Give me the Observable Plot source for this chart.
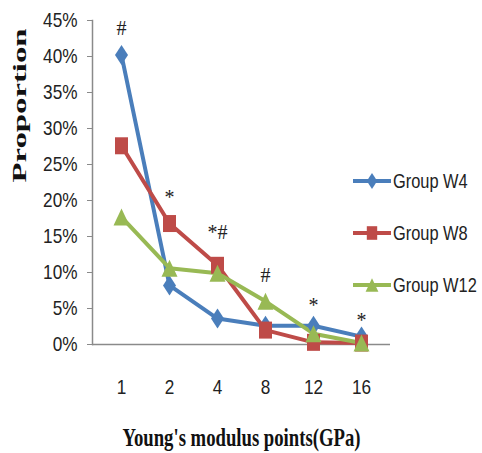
<!DOCTYPE html>
<html><head><meta charset="utf-8">
<script src="https://cdn.jsdelivr.net/npm/d3@7"></script>
<script src="https://cdn.jsdelivr.net/npm/@observablehq/plot@0.6"></script>
<style>body{margin:0;background:#fff}</style>
</head><body><div id="chart"></div>
<script>
const categories = ["1", "2", "4", "8", "12", "16"];
const seriesNames = ["Group W4", "Group W8", "Group W12"];
const w4 = [40.2, 8.2, 3.6, 2.6, 2.6, 1.1];
const w8 = [27.6, 16.8, 11.0, 2.0, 0.3, 0.2];
const w12 = [17.7, 10.6, 9.9, 6.0, 1.5, 0.2];
const colors = ["#4A7EBB", "#BE4B48", "#98B954"];
const yTicks = [0, 5, 10, 15, 20, 25, 30, 35, 40, 45];
const annotCats = ["1", "2", "4", "8", "12", "16"];
const annotLabels = ["#", "*", "*#", "#", "*", "*"];
const annotY = [43.9, 20.4, 15.6, 9.6, 5.4, 3.3];
const xTitle = "Young's modulus points(GPa)";
const yTitle = "Proportion";

const diamond = {draw(c) { const w = 6.5, h = 10; c.moveTo(0, -h); c.lineTo(w, 0); c.lineTo(0, h); c.lineTo(-w, 0); c.closePath(); }};
const square = {draw(c) { const w = 6.5, h = 8.5; c.moveTo(-w, -h); c.lineTo(w, -h); c.lineTo(w, h); c.lineTo(-w, h); c.closePath(); }};
const triangle = {draw(c) { const w = 8, h = 8.5; c.moveTo(0, -h); c.lineTo(w, h); c.lineTo(-w, h); c.closePath(); }};
const symbols = [diamond, square, triangle];
const seriesValues = [w4, w8, w12];

const rows = seriesNames.map((s, i) => categories.map((c, j) => ({series: s, cat: c, value: seriesValues[i][j]})));
const annots = annotCats.map((c, i) => ({cat: c, label: annotLabels[i], y: annotY[i]}));

const marks = [
  Plot.ruleY([0], {stroke: "#8a8a8a", strokeWidth: 1.5}),
  Plot.frame({anchor: "left", stroke: "#8a8a8a", strokeWidth: 1.5}),
  Plot.axisY({ticks: yTicks, tickFormat: d => d + "%", tickSize: 5, tickPadding: 10, label: null, stroke: "#8a8a8a", fill: "#222"}),
  Plot.axisX({tickSize: 0, tickPadding: 35, label: null, fill: "#222"})
];
rows.forEach((r, i) => {
  marks.push(Plot.line(r, {x: "cat", y: "value", stroke: colors[i], strokeWidth: 4}));
});
rows.forEach((r, i) => {
  marks.push(Plot.dot(r, {x: "cat", y: "value", symbol: symbols[i], fill: colors[i], stroke: "none", r: 7}));
});
marks.push(Plot.text(annots, {x: "cat", y: "y", text: "label", fontFamily: "'Liberation Serif', serif", fontSize: 20, fill: "#222"}));
marks.push(Plot.text([yTitle], {frameAnchor: "left", dx: -73, rotate: -90, fontFamily: "'Liberation Serif', serif", fontWeight: "bold", fontSize: 19, fill: "#111"}));
marks.push(Plot.text([xTitle], {frameAnchor: "bottom", dy: 101, fontFamily: "'Liberation Serif', serif", fontWeight: "bold", fontSize: 25, fill: "#111"}));

const plot = Plot.plot({
  width: 482, height: 453,
  marginLeft: 92, marginRight: 92, marginTop: 20, marginBottom: 109,
  style: {fontFamily: "'Liberation Sans', sans-serif", fontSize: "20px", background: "#fff", overflow: "visible"},
  x: {type: "point", domain: categories, padding: 0.553},
  y: {domain: [0, 45]},
  marks
});
document.getElementById("chart").appendChild(plot);

const svg = d3.select(plot);
svg.selectAll("text").each(function() {
  const t = this.textContent;
  if (t === yTitle) d3.select(this).attr("textLength", 154).attr("lengthAdjust", "spacingAndGlyphs");
  if (t === xTitle) d3.select(this).attr("textLength", 238).attr("lengthAdjust", "spacingAndGlyphs");
});
// condense the sans tick labels (narrow Calibri look)
svg.selectAll('g[aria-label="y-axis tick label"] text, g[aria-label="x-axis tick label"] text').each(function() {
  const tr = this.getAttribute("transform") || "";
  this.setAttribute("transform", tr + " scale(0.86,1)");
});

// legend
const lg = svg.append("g");
seriesNames.forEach((s, i) => {
  const cy = 181 + i * 52;
  const g = lg.append("g").attr("transform", `translate(0,${cy})`);
  g.append("line").attr("x1", 353).attr("x2", 391).attr("y1", 0).attr("y2", 0).attr("stroke", colors[i]).attr("stroke-width", 4);
  const p = d3.path(); symbols[i].draw(p, 0);
  g.append("path").attr("d", p.toString()).attr("transform", "translate(372,0) scale(0.8)").attr("fill", colors[i]);
  g.append("text").attr("transform", "translate(393,0) scale(0.82,1.05)").attr("dy", "0.35em").attr("fill", "#222")
    .attr("text-anchor", "start")
    .style("font-family", "'Liberation Sans', sans-serif").style("font-size", "20px").text(s);
});
</script>
</body></html>
